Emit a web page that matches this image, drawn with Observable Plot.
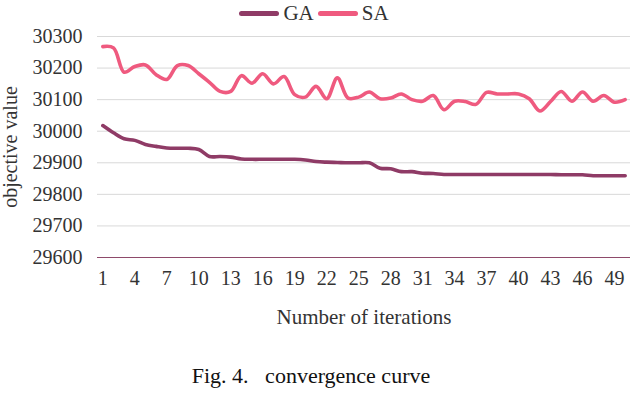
<!DOCTYPE html>
<html>
<head>
<meta charset="utf-8">
<script src="https://cdn.jsdelivr.net/npm/d3@7"></script>
<script src="https://cdn.jsdelivr.net/npm/@observablehq/plot@0.6"></script>
<style>
  html, body { margin: 0; padding: 0; background: #fff; }
  #wrap { position: relative; width: 630px; height: 394px; overflow: hidden; font-family: "Liberation Serif", "Times New Roman", serif; color: #404040; }
  #chart { position: absolute; left: 0; top: 0; }
  #legend { position: absolute; top: 2px; left: 0; width: 628px; display: flex; justify-content: center; align-items: center; font-size: 21px; line-height: 22px; color: #333; }
  #legend .item { display: flex; align-items: center; margin: 0 2px; }
  #legend .sw { width: 40px; height: 5px; border-radius: 3px; margin-right: 4px; margin-top: 0px; }
  #caption { position: absolute; top: 366px; left: 0; width: 622px; text-align: center; font-size: 22px; line-height: 20px; white-space: pre; color: #111; }
</style>
</head>
<body>
<div id="wrap">
  <div id="chart"></div>
  <div id="legend"></div>
  <div id="caption"></div>
</div>
<script>
const iterations = [1,2,3,4,5,6,7,8,9,10,11,12,13,14,15,16,17,18,19,20,21,22,23,24,25,26,27,28,29,30,31,32,33,34,35,36,37,38,39,40,41,42,43,44,45,46,47,48,49,50];
const gaValues = [30018,29995,29976,29971,29958,29952,29947,29946,29946,29942,29920,29920,29918,29912,29911,29911,29911,29911,29911,29909,29904,29902,29901,29900,29900,29900,29883,29881,29872,29872,29867,29866,29863,29863,29863,29863,29863,29863,29863,29863,29863,29863,29863,29862,29862,29862,29859,29859,29859,29859];
const saValues = [30268,30264,30187,30205,30210,30179,30164,30208,30208,30182,30155,30126,30126,30176,30152,30182,30150,30173,30116,30108,30142,30103,30169,30105,30108,30124,30103,30105,30118,30100,30095,30113,30068,30095,30094,30085,30123,30118,30118,30118,30103,30064,30094,30126,30095,30124,30095,30113,30092,30100];
const seriesNames = ["GA", "SA"];
const seriesColors = ["#8f3b66", "#ef5a7f"];
const yTicks = [29600,29700,29800,29900,30000,30100,30200,30300];
const xTicks = [1,4,7,10,13,16,19,22,25,28,31,34,37,40,43,46,49];
const xTitle = "Number of iterations";
const yTitle = "objective value";
const captionText = "Fig. 4.   convergence curve";

const rows = [];
iterations.forEach((it, i) => {
  rows.push({iter: it, value: gaValues[i], series: seriesNames[0]});
});
iterations.forEach((it, i) => {
  rows.push({iter: it, value: saValues[i], series: seriesNames[1]});
});

const chart = Plot.plot({
  width: 630,
  height: 394,
  marginTop: 36,
  marginBottom: 137,
  marginLeft: 97,
  marginRight: 0,
  style: {fontFamily: "Liberation Serif, Times New Roman, serif", fontSize: "20px", color: "#333", background: "transparent", overflow: "visible"},
  x: {type: "point", domain: iterations, padding: 0.5},
  y: {domain: [29600, 30300]},
  color: {domain: seriesNames, range: seriesColors},
  marks: [
    Plot.gridY(yTicks, {stroke: "#d9d9d9", strokeOpacity: 1, strokeWidth: 1}),
    Plot.ruleY([yTicks[0]], {stroke: "#8e4a6a", strokeWidth: 1}),
    Plot.axisY(yTicks, {tickSize: 0, tickPadding: 15, tickFormat: d => String(d), label: yTitle, labelAnchor: "center", labelOffset: 95, labelArrow: "none", fontSize: 20}),
    Plot.axisX(xTicks, {tickSize: 0, tickPadding: 13, label: null, fontSize: 20}),
    Plot.axisX({label: xTitle, labelAnchor: "center", labelOffset: 66, labelArrow: "none", ticks: [], tickSize: 0, fontSize: 21}),
    Plot.lineY(rows, {x: "iter", y: "value", z: "series", stroke: "series", strokeWidth: 3.6, curve: "catmull-rom", strokeLinecap: "round", strokeLinejoin: "round"})
  ]
});
document.getElementById("chart").appendChild(chart);

const legend = document.getElementById("legend");
seriesNames.forEach((name, i) => {
  const item = document.createElement("div");
  item.className = "item";
  const sw = document.createElement("div");
  sw.className = "sw";
  sw.style.background = seriesColors[i];
  const lab = document.createElement("span");
  lab.textContent = name;
  item.appendChild(sw);
  item.appendChild(lab);
  legend.appendChild(item);
});
document.getElementById("caption").textContent = captionText;
</script>
</body>
</html>
